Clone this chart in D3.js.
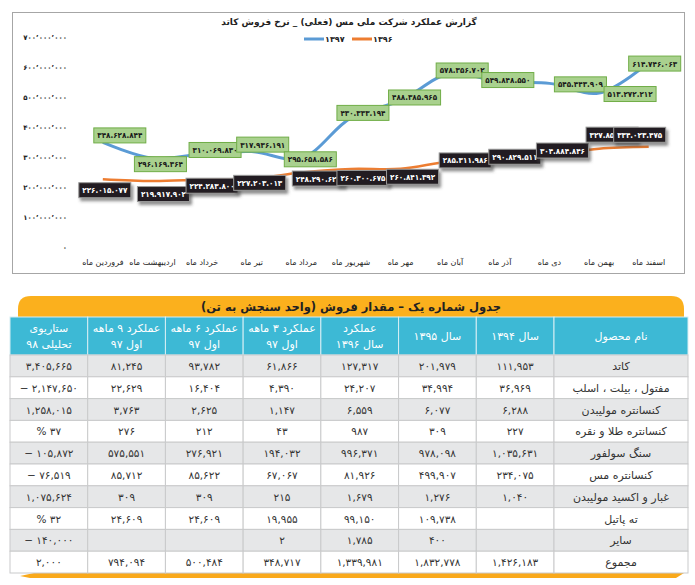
<!DOCTYPE html>
<html>
<head>
<meta charset="utf-8">
<script src="https://cdn.jsdelivr.net/npm/d3@7"></script>
<style>
  body { margin: 0; background: #fff; }
  svg text { font-family: "DejaVu Sans", sans-serif; }
</style>
</head>
<body>
<div id="page"></div>
<script>
// ---- chart data ----
var months = ["فروردین ماه", "اردیبهشت ماه", "خرداد ماه", "تیر ماه", "مرداد ماه", "شهریور ماه",
  "مهر ماه", "آبان ماه", "آذر ماه", "دی ماه", "بهمن ماه", "اسفند ماه"];
var sales1397 = [348628844, 296169364, 310069830, 317936191, 295658586, 430333194,
  488385965, 578356702, 549848550, 545443909, 513272212, 614746063];
var sales1396 = [226015077, 219917902, 224283800, 227203013, 248290621, 260300675,
  260841392, 285311986, 290829511, 304884846, 327850000, 334023475];
var yTicks = [0, 100000000, 200000000, 300000000, 400000000, 500000000, 600000000, 700000000];

// label nudges (pixels) as placed in the original
var shift1397x = [17, 8, 13, 11, 9, 12, 14, 12, 8, 31, 31, 6];
var shift1397y = [-7, 6, -4, -7, 1, -5, -3, -3, -2, 1, 1, 1];
var shift1396x = [2, 11, 10, 8, 17, 12, 12, 15, 15, 13, 13, -9];
var shift1396y = [11, 13, 6, 4, 6, 9, 8, -1, -3, -5, -14, -12];

// ---- table data ----
var products = ["کاتد", "مفتول ، بیلت ، اسلب", "کنسانتره مولیبدن", "کنسانتره طلا و نقره", "سنگ سولفور",
  "کنسانتره مس", "غبار و اکسید مولیبدن", "ته پاتیل", "سایر", "مجموع"];
var year1394 = [111953, 36969, 6288, 227, 1035631, 234075, 1040, null, null, 1426183];
var year1395 = [201979, 34994, 6077, 309, 978098, 499907, 1276, 109738, 400, 1832778];
var year1396 = [127317, 24207, 6559, 987, 996371, 81926, 1679, 99150, 1785, 1339981];
var first3m97 = [61866, 4390, 1147, 43, 194032, 67067, 215, 19955, 2, 348717];
var first6m97 = [93782, 16404, 2625, 212, 276921, 85622, 309, 24609, null, 500484];
var first9m97 = [81245, 22629, 3763, 276, 575551, 85712, 309, 24609, null, 794094];
var scenario98 = ["3,405,665", "− 2,147,650", "1,258,015", "% 37", "− 105,872", "− 76,519",
  "1,075,624", "% 32", "− 140,000", "2,000"];
var headers = [["ستاریوی", "تحلیلی ۹۸"], ["عملکرد ۹ ماهه", "اول ۹۷"], ["عملکرد ۶ ماهه", "اول ۹۷"],
  ["عملکرد ۳ ماهه", "اول ۹۷"], ["عملکرد", "سال ۱۳۹۶"], ["سال ۱۳۹۵"], ["سال ۱۳۹۴"], ["نام محصول"]];

var faDigits = "۰۱۲۳۴۵۶۷۸۹";
function toFa(s) {
  return String(s).replace(/[0-9]/g, function (c) { return faDigits[+c]; });
}

var W = 695, H = 585;
var svg = d3.select("#page").append("svg").attr("width", W).attr("height", H);

var defs = svg.append("defs");
var f = defs.append("filter").attr("id", "shadow").attr("x", "-20%").attr("y", "-30%")
  .attr("width", "150%").attr("height", "190%");
f.append("feDropShadow").attr("dx", 2).attr("dy", 3).attr("stdDeviation", 1.5)
  .attr("flood-color", "#444").attr("flood-opacity", 0.6);

// ---------- line chart ----------
svg.append("rect").attr("x", 12.5).attr("y", 12.5).attr("width", 672).attr("height", 261)
  .attr("fill", "#fff").attr("stroke", "#a6a6a6").attr("stroke-width", 1);

var x = d3.scaleBand().domain(months).range([78, 673.5]);
var y = d3.scaleLinear().domain([0, 700000000]).range([247, 37]);
function cx(i) { return x(months[i]) + x.bandwidth() / 2; }

var yAxis = d3.axisLeft(y).tickValues(yTicks).tickSize(0).tickPadding(3)
  .tickFormat(function (d) { return toFa(d3.format(",")(d)).replace(/,/g, "٬"); });
var gy = svg.append("g").attr("transform", "translate(70,0)").call(yAxis);
gy.select(".domain").remove();
gy.selectAll("text").attr("font-size", 7).attr("font-weight", "bold").attr("fill", "#222")
  .style("font-family", "DejaVu Sans");

var xAxis = d3.axisBottom(x).tickSize(0).tickPadding(4);
var gx = svg.append("g").attr("transform", "translate(0,255)").call(xAxis);
gx.select(".domain").remove();
gx.selectAll("text").attr("font-size", 8).attr("fill", "#222").style("direction", "rtl");

var line = d3.line().x(function (d, i) { return cx(i); }).y(function (d) { return y(d); })
  .curve(d3.curveCatmullRom);

svg.append("path").datum(sales1396).attr("d", line).attr("fill", "none")
  .attr("stroke", "#ed7d31").attr("stroke-width", 2.5);
svg.append("path").datum(sales1397).attr("d", line).attr("fill", "none")
  .attr("stroke", "#5b9bd5").attr("stroke-width", 3);

// title + legend
svg.append("text").attr("x", 349).attr("y", 25).attr("text-anchor", "middle")
  .style("direction", "rtl").attr("font-size", 9).attr("font-weight", "bold").attr("fill", "#222")
  .text("گزارش عملکرد شرکت ملی مس (فعلی) _ نرخ فروش کاتد");

var legend = [{ name: "۱۳۹۷", color: "#5b9bd5", x0: 304 }, { name: "۱۳۹۶", color: "#ed7d31", x0: 352 }];
var lg = svg.selectAll(".lg").data(legend).enter().append("g").attr("class", "lg");
lg.append("line").attr("x1", function (d) { return d.x0; }).attr("x2", function (d) { return d.x0 + 20; })
  .attr("y1", 39).attr("y2", 39).attr("stroke", function (d) { return d.color; }).attr("stroke-width", 3);
lg.append("text").attr("x", function (d) { return d.x0 + 21; }).attr("y", 42)
  .attr("font-size", 8).attr("font-weight", "bold").attr("fill", "#222")
  .text(function (d) { return d.name; });

function addLabels(values, sx, sy, fill, stroke, color, shadow) {
  values.forEach(function (v, i) {
    var g = svg.append("g")
      .attr("transform", "translate(" + (cx(i) + sx[i]) + "," + (y(v) + sy[i]) + ")");
    var r = g.append("rect");
    var t = g.append("text").attr("text-anchor", "middle").attr("y", 3)
      .attr("font-size", 8).attr("font-weight", "bold").attr("fill", color)
      .style("font-family", "DejaVu Sans Condensed, DejaVu Sans")
      .text(toFa(d3.format(",")(v)).replace(/,/g, "."));
    var w = t.node().getComputedTextLength() + 7;
    r.attr("x", -w / 2).attr("y", -7.5).attr("width", w).attr("height", 15)
      .attr("fill", fill).attr("stroke", stroke).attr("stroke-width", 1);
    if (shadow) r.attr("filter", "url(#shadow)");
  });
}
addLabels(sales1397, shift1397x, shift1397y, "#a9d18e", "#70ad47", "#1a1a1a", false);
addLabels(sales1396, shift1396x, shift1396y, "#231f20", "#9a9a9a", "#fff", true);

// ---------- table ----------
var tLeft = 10, tRight = 688, nameW = 134;
var headTop = 317, headH = 38, rowH = 21.8;
var cols = ["s98", "m9", "m6", "m3", "y96", "y95", "y94", "name"];
var xc = d3.scaleBand().domain(cols.slice(0, 7)).range([tLeft, tRight - nameW]);
function colX(c) { return c === "name" ? tRight - nameW : xc(c); }
function colW(c) { return c === "name" ? nameW : xc.bandwidth(); }
var yr = d3.scaleBand().domain(d3.range(products.length))
  .range([headTop + headH, headTop + headH + rowH * products.length]);

// orange banner with rounded top corners
var bx0 = 18, bx1 = 684, by0 = 296, by1 = headTop, rr = 13;
svg.append("path").attr("fill", "#fbb01d")
  .attr("d", "M" + bx0 + "," + by1 + " L" + bx0 + "," + (by0 + rr) + " Q" + bx0 + "," + by0 + " " + (bx0 + rr) + "," + by0 +
    " L" + (bx1 - rr) + "," + by0 + " Q" + bx1 + "," + by0 + " " + bx1 + "," + (by0 + rr) + " L" + bx1 + "," + by1 + " Z");
svg.append("text").attr("x", 351).attr("y", 311).attr("text-anchor", "middle").style("direction", "rtl")
  .attr("font-size", 11.5).attr("font-weight", "bold").attr("fill", "#222")
  .text("جدول شماره یک – مقدار فروش (واحد سنجش به تن)");

// bottom orange stroke
var yb = yr.range()[1];
svg.append("path").attr("fill", "#f9a91b")
  .attr("d", "M20," + (yb + 3) + " L34," + (yb) + " L684," + (yb) + " L676," + (yb + 5) + " L30," + (yb + 5) + " Z");

// header
var hg = svg.append("g");
cols.forEach(function (c, j) {
  hg.append("rect").attr("x", colX(c)).attr("y", headTop).attr("width", colW(c)).attr("height", headH)
    .attr("fill", "#3db9d5").attr("stroke", "#d6eef4").attr("stroke-width", 1);
  var lines = headers[j];
  lines.forEach(function (s, k) {
    var ty = lines.length === 1 ? headTop + headH / 2 + 4 : headTop + 15 + k * 16;
    hg.append("text").attr("x", colX(c) + colW(c) / 2).attr("y", ty).attr("text-anchor", "middle")
      .style("direction", "rtl").attr("font-size", 11).attr("fill", "#fff").text(s);
  });
});

// body
var colData = { s98: scenario98, m9: first9m97, m6: first6m97, m3: first3m97, y96: year1396, y95: year1395, y94: year1394 };
products.forEach(function (p, i) {
  var ry = yr(i);
  var rg = svg.append("g");
  cols.forEach(function (c) {
    rg.append("rect").attr("x", colX(c)).attr("y", ry).attr("width", colW(c)).attr("height", rowH)
      .attr("fill", i % 2 === 0 ? "#e6e7e8" : "#fff").attr("stroke", "#c9cacb").attr("stroke-width", 1);
    var txt;
    if (c === "name") txt = p;
    else {
      var v = colData[c][i];
      if (v === null) txt = "";
      else txt = typeof v === "string" ? toFa(v) : toFa(d3.format(",")(v));
    }
    rg.append("text").attr("x", colX(c) + colW(c) / 2).attr("y", ry + rowH / 2 + 4)
      .attr("text-anchor", "middle").style("direction", c === "name" ? "rtl" : "ltr")
      .attr("font-size", c === "name" ? 11 : 10.5).attr("fill", "#333").text(txt);
  });
});
</script>
</body>
</html>
